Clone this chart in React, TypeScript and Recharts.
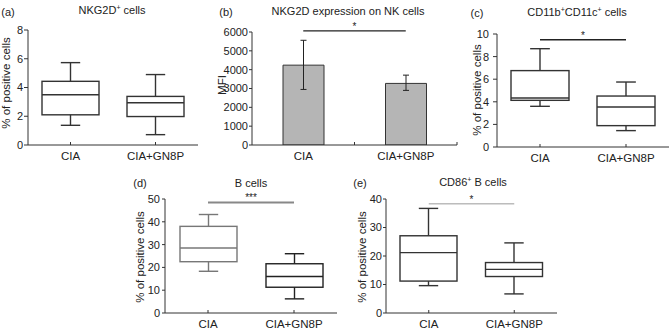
import React from "react"
import { ComposedChart, Bar, XAxis, YAxis, ReferenceLine, ErrorBar } from "recharts"

const groups = ["CIA", "CIA+GN8P"]

// five-number summaries per group: min, q1, median, q3, max
const nkg2dCells = [
  [1.37, 2.1, 3.5, 4.43, 5.73],
  [0.72, 1.98, 2.94, 3.38, 4.9],
]
const cd11Cells = [
  [3.6, 4.13, 4.34, 6.76, 8.7],
  [1.45, 1.89, 3.54, 4.51, 5.75],
]
const bCells = [
  [18.3, 22.5, 28.5, 38.0, 43.2],
  [6.2, 11.3, 16.0, 21.6, 26.0],
]
const cd86Cells = [
  [9.6, 11.2, 21.2, 27.1, 36.7],
  [6.7, 12.8, 15.3, 17.7, 24.6],
]

const mfiMean = [4240, 3270]
const mfiLow = [2950, 2900]
const mfiHigh = [5560, 3710]

const ticksA = [0, 2, 4, 6, 8]
const ticksB = [0, 1000, 2000, 3000, 4000, 5000, 6000]
const ticksC = [0, 2, 4, 6, 8, 10]
const ticksD = [0, 10, 20, 30, 40, 50]
const ticksE = [0, 10, 20, 30, 40]

const FONT = '"Liberation Sans", Arial, Helvetica, sans-serif'
const INK = "#222"

const toRows = (summary: number[][]) =>
  groups.map((name, i) => {
    const [min, q1, median, q3, max] = summary[i]
    return { name, min, q1, median, q3, max, box: [q1, q3] }
  })

const mfiRows = groups.map((name, i) => ({
  name,
  mean: mfiMean[i],
  err: [mfiMean[i] - mfiLow[i], mfiHigh[i] - mfiMean[i]],
}))

const makeBoxShape = (colors: string[]) => (props: any) => {
  const { x, y, width, height, payload } = props
  const top = Math.min(y, y + height)
  const h = Math.abs(height)
  const ppu = h / (payload.q3 - payload.q1)
  const py = (v: number) => top + (payload.q3 - v) * ppu
  const cx = x + width / 2
  const cap = width * 0.17
  const color = colors[groups.indexOf(payload.name)] || "#333"
  return (
    <g stroke={color} strokeWidth={1.4} fill="none">
      <rect x={x} y={top} width={width} height={h} fill="#fff" />
      <line x1={x} x2={x + width} y1={py(payload.median)} y2={py(payload.median)} />
      <line x1={cx} x2={cx} y1={top} y2={py(payload.max)} />
      <line x1={cx} x2={cx} y1={top + h} y2={py(payload.min)} />
      <line x1={cx - cap} x2={cx + cap} y1={py(payload.max)} y2={py(payload.max)} />
      <line x1={cx - cap} x2={cx + cap} y1={py(payload.min)} y2={py(payload.min)} />
    </g>
  )
}

const XTick = (props: any) => {
  const { x, y, payload, gap, edge } = props
  const axisY = y - gap
  const tx = edge ? x + (payload.offset ?? 0) : x
  return (
    <g>
      <line x1={tx} x2={tx} y1={axisY} y2={axisY - 3} stroke="#333" />
      <text x={x} y={y} dy="0.71em" textAnchor="middle" fill={INK} fontSize={11.5} fontFamily={FONT}>
        {payload.value}
      </text>
    </g>
  )
}

const Title = ({ x, y, children }: { x: number; y: number; children: React.ReactNode }) => (
  <div
    style={{
      position: "absolute",
      left: x,
      top: y,
      transform: "translate(-50%, -50%)",
      whiteSpace: "nowrap",
      fontSize: 11,
      lineHeight: "13px",
    }}
  >
    {children}
  </div>
)

const YLabel = ({ x, y, text }: { x: number; y: number; text: string }) => (
  <div
    style={{
      position: "absolute",
      left: x,
      top: y,
      transform: "translate(-50%, -50%) rotate(-90deg)",
      whiteSpace: "nowrap",
      fontSize: 11.5,
      lineHeight: "13px",
    }}
  >
    {text}
  </div>
)

const Sup = () => (
  <span style={{ fontSize: 7, position: "relative", top: -4 }}>+</span>
)

interface BoxPanelProps {
  left: number
  top: number
  width: number
  height: number
  marginTop: number
  marginRight: number
  yWidth: number
  ticks: number[]
  rows: ReturnType<typeof toRows>
  barSize: number
  colors: string[]
  tickSize: number
  tickMargin: number
  sig?: { y: number; label: string; color: string; width: number }
}

function BoxPanel(p: BoxPanelProps) {
  const max = p.ticks[p.ticks.length - 1]
  return (
    <div style={{ position: "absolute", left: p.left, top: p.top }}>
      <ComposedChart
        width={p.width}
        height={p.height}
        data={p.rows}
        margin={{ top: p.marginTop, right: p.marginRight, bottom: 0, left: 0 }}
      >
        <XAxis
          dataKey="name"
          height={20}
          axisLine={{ stroke: "#333" }}
          tickLine={false}
          tickSize={0}
          tickMargin={7}
          interval={0}
          tick={(t: any) => <XTick {...t} gap={7} />}
        />
        <YAxis
          type="number"
          domain={[0, max]}
          ticks={p.ticks}
          interval={0}
          allowDataOverflow
          width={p.yWidth}
          axisLine={{ stroke: "#333" }}
          tickLine={{ stroke: "#333" }}
          tickSize={p.tickSize}
          tickMargin={p.tickMargin}
          tick={{ fill: INK, fontSize: 11, fontFamily: FONT }}
        />
        <Bar
          dataKey="box"
          barSize={p.barSize}
          shape={makeBoxShape(p.colors)}
          isAnimationActive={false}
        />
        {p.sig && (
          <ReferenceLine
            segment={[
              { x: groups[0], y: p.sig.y },
              { x: groups[1], y: p.sig.y },
            ]}
            ifOverflow="visible"
            stroke={p.sig.color}
            strokeWidth={p.sig.width}
            label={{ value: p.sig.label, position: "top", offset: 1, fill: INK, fontSize: 10, fontFamily: FONT }}
          />
        )}
      </ComposedChart>
    </div>
  )
}

function MfiPanel() {
  return (
    <div style={{ position: "absolute", left: 220, top: 0 }}>
      <ComposedChart
        width={240}
        height={165}
        data={mfiRows}
        margin={{ top: 32, right: 3, bottom: 0, left: 0 }}
      >
        <XAxis
          dataKey="name"
          height={20}
          axisLine={{ stroke: "#333" }}
          tickLine={false}
          tickSize={0}
          tickMargin={7}
          interval={0}
          tick={(t: any) => <XTick {...t} gap={7} edge />}
        />
        <YAxis
          type="number"
          domain={[0, 6000]}
          ticks={ticksB}
          interval={0}
          allowDataOverflow
          width={32}
          axisLine={{ stroke: "#333" }}
          tickLine={{ stroke: "#333" }}
          tickSize={3}
          tickMargin={1}
          tick={{ fill: INK, fontSize: 11, fontFamily: FONT }}
        />
        <Bar
          dataKey="mean"
          barSize={41}
          fill="#b5b5b5"
          stroke="#333"
          strokeWidth={1}
          isAnimationActive={false}
        >
          <ErrorBar dataKey="err" width={3} stroke={INK} strokeWidth={1} direction="y" />
        </Bar>
        <ReferenceLine
          segment={[
            { x: groups[0], y: 6060 },
            { x: groups[1], y: 6060 },
          ]}
          ifOverflow="visible"
          stroke={INK}
          strokeWidth={1.2}
          label={{ value: "*", position: "top", offset: 1, fill: INK, fontSize: 10, fontFamily: FONT }}
        />
      </ComposedChart>
    </div>
  )
}

export default function App() {
  return (
    <div
      style={{
        position: "absolute",
        left: 0,
        top: 0,
        width: 669,
        height: 334,
        background: "#fff",
        overflow: "hidden",
        fontFamily: FONT,
        color: INK,
      }}
    >
      <BoxPanel
        left={0}
        top={0}
        width={200}
        height={165}
        marginTop={30}
        marginRight={2}
        yWidth={28}
        ticks={ticksA}
        rows={toRows(nkg2dCells)}
        barSize={57}
        colors={["#333", "#333"]}
        tickSize={4}
        tickMargin={1}
      />
      <MfiPanel />
      <BoxPanel
        left={440}
        top={0}
        width={229}
        height={167}
        marginTop={34}
        marginRight={0}
        yWidth={57}
        ticks={ticksC}
        rows={toRows(cd11Cells)}
        barSize={58}
        colors={["#333", "#333"]}
        tickSize={4}
        tickMargin={4}
        sig={{ y: 9.5, label: "*", color: INK, width: 1.5 }}
      />
      <BoxPanel
        left={110}
        top={150}
        width={230}
        height={183}
        marginTop={49}
        marginRight={3}
        yWidth={55}
        ticks={ticksD}
        rows={toRows(bCells)}
        barSize={57}
        colors={["#777", "#222"]}
        tickSize={3}
        tickMargin={2}
        sig={{ y: 48.5, label: "***", color: "#888", width: 2 }}
      />
      <BoxPanel
        left={330}
        top={150}
        width={230}
        height={183}
        marginTop={49}
        marginRight={3}
        yWidth={56}
        ticks={ticksE}
        rows={toRows(cd86Cells)}
        barSize={57}
        colors={["#333", "#333"]}
        tickSize={3}
        tickMargin={1}
        sig={{ y: 38.3, label: "*", color: "#999", width: 1 }}
      />

      <Title x={8} y={12}>(a)</Title>
      <Title x={112} y={11}>NKG2D<Sup /> cells</Title>
      <Title x={226} y={12}>(b)</Title>
      <Title x={348} y={11}>NKG2D expression on NK cells</Title>
      <Title x={477} y={13}>(c)</Title>
      <Title x={577} y={13}>CD11b<Sup />CD11c<Sup /> cells</Title>
      <Title x={140} y={183}>(d)</Title>
      <Title x={251} y={183}>B cells</Title>
      <Title x={360} y={183}>(e)</Title>
      <Title x={473} y={183}>CD86<Sup /> B cells</Title>

      <YLabel x={6} y={83} text="% of positive cells" />
      <YLabel x={222} y={85} text="MFI" />
      <YLabel x={477} y={90} text="% of positive cells" />
      <YLabel x={140} y={257} text="% of positive cells" />
      <YLabel x={362} y={257} text="% of positive cells" />
    </div>
  )
}
